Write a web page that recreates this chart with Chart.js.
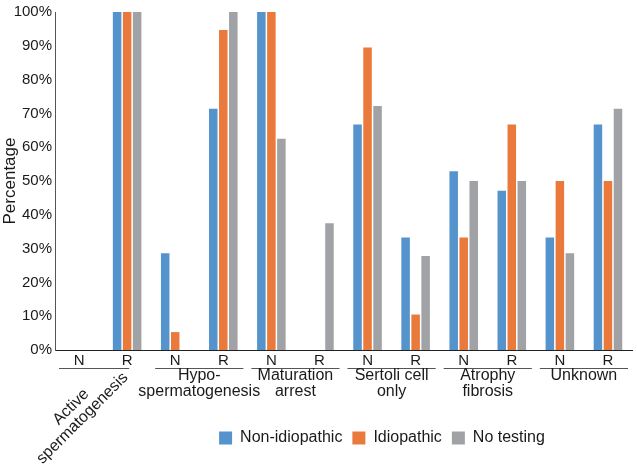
<!DOCTYPE html>
<html>
<head>
    <title>Percentage by histology</title>
    <script src="https://cdn.jsdelivr.net/npm/chart.js"></script>
    <style>
        html, body { margin: 0; padding: 0; background: #fff; }
        #wrap { width: 637px; height: 464px; }
    </style>
</head>
<body>
    <div id="wrap"><canvas id="myChart" width="637" height="464"></canvas></div>
    <script>
        // sub-categories on the x axis (N / R for each histology group)
        const categories = ['N', 'R', 'N', 'R', 'N', 'R', 'N', 'R', 'N', 'R', 'N', 'R'];
        const groups = [
            ['Active', 'spermatogenesis'],
            ['Hypo-', 'spermatogenesis'],
            ['Maturation', 'arrest'],
            ['Sertoli cell', 'only'],
            ['Atrophy', 'fibrosis'],
            ['Unknown']
        ];
        const seriesNames = ['Non-idiopathic', 'Idiopathic', 'No testing'];
        const nonIdiopathic = [0, 100, 28.6, 71.4, 100, 0, 66.7, 33.3, 52.9, 47.1, 33.3, 66.7];
        const idiopathic = [0, 100, 5.3, 94.7, 100, 0, 89.5, 10.5, 33.3, 66.7, 50, 50];
        const noTesting = [0, 100, 0, 100, 62.5, 37.5, 72.2, 27.8, 50, 50, 28.6, 71.4];
        const yTicks = [0, 10, 20, 30, 40, 50, 60, 70, 80, 90, 100];

        const colors = ['#5593CD', '#E97A3B', '#A1A2A5'];
        const font = 'Liberation Sans, Arial, sans-serif';

        // draws the group lines + group names under the N/R ticks, and nudges the legend
        const groupLabels = {
            id: 'groupLabels',
            afterLayout(chart) {
                const lg = chart.legend;
                if (lg) { lg.left += 66; lg.right += 66; }
            },
            afterDraw(chart) {
                const ctx = chart.ctx;
                const x = chart.scales.x;
                ctx.save();
                ctx.fillStyle = '#1a1a1a';
                ctx.strokeStyle = '#555';
                ctx.lineWidth = 1;
                ctx.font = '16px ' + font;
                ctx.textAlign = 'center';
                ctx.textBaseline = 'middle';
                groups.forEach((g, i) => {
                    const a = x.getPixelForValue(i * 2);
                    const b = x.getPixelForValue(i * 2 + 1);
                    const half = (b - a) / 2;
                    const left = a - half + 4;
                    const right = i === 0 ? b + half - 22 : b + half - 4;
                    ctx.beginPath();
                    ctx.moveTo(left, 368.5);
                    ctx.lineTo(right, 368.5);
                    ctx.stroke();
                    const cx = (a + b) / 2;
                    if (i === 0) {
                        ctx.save();
                        ctx.translate(cx - 32, 407);
                        ctx.rotate(-Math.PI / 4);
                        ctx.fillText(g[0], 0, 0);
                        ctx.fillText(g[1], 0, 16);
                        ctx.restore();
                    } else {
                        g.forEach((t, k) => ctx.fillText(t, cx, 376 + k * 16));
                    }
                });
                ctx.restore();
            }
        };

        const ctx = document.getElementById('myChart').getContext('2d');
        const myChart = new Chart(ctx, {
            type: 'bar',
            data: {
                labels: categories,
                datasets: [
                    { label: seriesNames[0], data: nonIdiopathic, backgroundColor: colors[0] },
                    { label: seriesNames[1], data: idiopathic, backgroundColor: colors[1] },
                    { label: seriesNames[2], data: noTesting, backgroundColor: colors[2] }
                ]
            },
            options: {
                responsive: false,
                animation: false,
                datasets: { bar: { categoryPercentage: 0.625, barPercentage: 0.85 } },
                layout: { padding: { top: 0, right: 5, bottom: 8, left: 0 } },
                plugins: {
                    legend: {
                        position: 'bottom',
                        labels: {
                            boxWidth: 13,
                            boxHeight: 13,
                            padding: 10,
                            color: '#1a1a1a',
                            font: { family: font, size: 16 }
                        }
                    },
                    tooltip: { enabled: false }
                },
                scales: {
                    x: {
                        grid: { display: false, drawTicks: false },
                        border: { display: true, color: '#222', width: 1 },
                        ticks: { color: '#1a1a1a', padding: 2, font: { family: font, size: 15 } },
                        afterFit(scale) { scale.height = 70; }
                    },
                    y: {
                        min: 0,
                        max: 100,
                        afterBuildTicks(scale) { scale.ticks = yTicks.map(v => ({ value: v })); },
                        grid: { display: false, drawTicks: false },
                        border: { display: true, color: '#555', width: 1 },
                        ticks: {
                            color: '#1a1a1a',
                            padding: 3,
                            font: { family: font, size: 15 },
                            callback: v => v + '%'
                        },
                        title: {
                            display: true,
                            text: 'Percentage',
                            color: '#1a1a1a',
                            padding: 0,
                            font: { family: font, size: 17 }
                        },
                        afterFit(scale) { scale.width = 55; }
                    }
                }
            },
            plugins: [groupLabels]
        });
    </script>
</body>
</html>
